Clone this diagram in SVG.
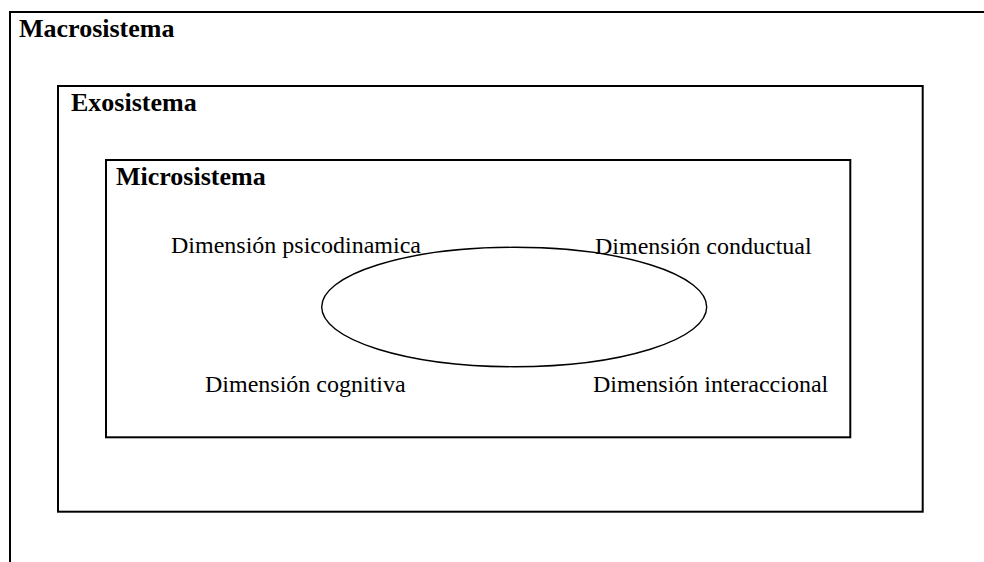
<svg xmlns="http://www.w3.org/2000/svg" width="984" height="562" viewBox="0 0 984 562">
<style>
.box{fill:none;stroke:#000;stroke-width:2}
.ell{fill:none;stroke:#000;stroke-width:1.4}
.title{font-family:"Liberation Serif","Times New Roman",serif;font-weight:bold;font-size:26px;fill:#000}
.lbl{font-family:"Liberation Serif","Times New Roman",serif;font-size:24px;fill:#000}
</style>
<rect width="984" height="562" fill="#fff"/>
<g id="macrosistema">
<rect class="box" x="10" y="12" width="1000" height="580"/>
<text class="title" x="19" y="37">Macrosistema</text>
</g>
<g id="exosistema">
<rect class="box" x="58" y="86" width="864.7" height="425.7"/>
<text class="title" x="71" y="111">Exosistema</text>
</g>
<g id="microsistema">
<rect class="box" x="106" y="160" width="744.3" height="277.3"/>
<text class="title" x="116" y="185">Microsistema</text>
</g>
<g id="nucleo">
<ellipse class="ell" cx="514.2" cy="307" rx="192.5" ry="59.7"/>
</g>
<g id="dim-psicodinamica"><text class="lbl" x="171" y="253">Dimensión psicodinamica</text></g>
<g id="dim-conductual"><text class="lbl" x="595" y="254">Dimensión conductual</text></g>
<g id="dim-cognitiva"><text class="lbl" x="205" y="392">Dimensión cognitiva</text></g>
<g id="dim-interaccional"><text class="lbl" x="593" y="392">Dimensión interaccional</text></g>
<g id="connectors"></g>
</svg>
